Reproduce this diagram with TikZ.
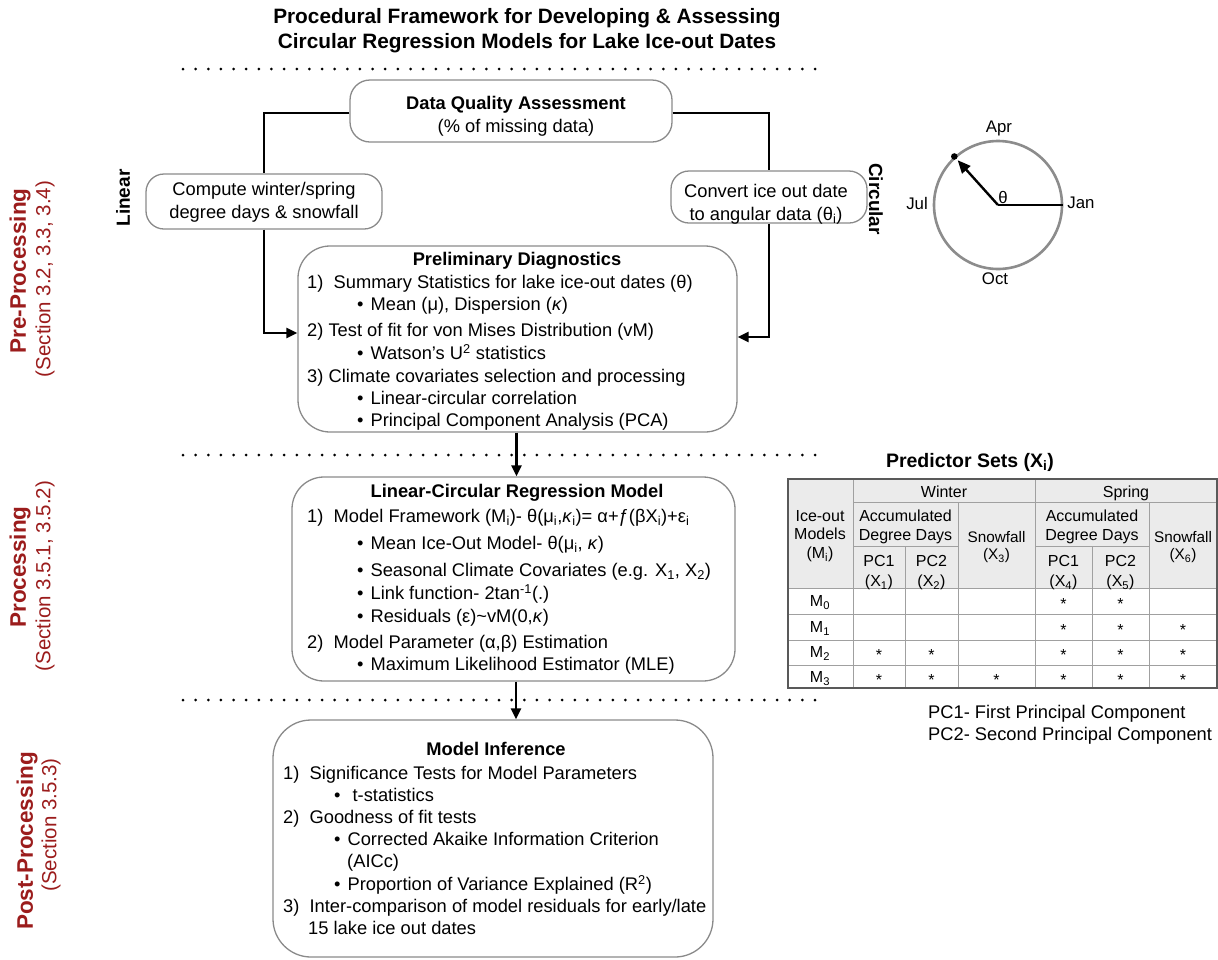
\documentclass[tikz,border=0pt]{standalone}
\usepackage{fontspec}
\setmainfont{Liberation Sans}
\usetikzlibrary{arrows.meta,calc}
\definecolor{sec}{HTML}{9B1C1C}
\definecolor{boxgray}{HTML}{8A8A8A}
\definecolor{hdr}{HTML}{EBEBEB}
\definecolor{tline}{HTML}{A0A0A0}
\definecolor{cgray}{HTML}{8C8C8C}
\newcommand{\kap}{\textit{κ}}
\begin{document}
\begin{tikzpicture}[x=1pt,y=-1pt,
  box/.style={draw=boxgray, line width=1.3pt, inner sep=0pt},
  txt/.style={inner sep=0pt, anchor=west, font=\fontsize{18.3}{22}\selectfont, text height=13.2pt, text depth=0pt},
  ttl/.style={inner sep=0pt, anchor=center, font=\bfseries\fontsize{18.3}{22}\selectfont, text height=13.2pt, text depth=0pt},
  ctxt/.style={inner sep=0pt, anchor=center, font=\fontsize{18.3}{22}\selectfont, text height=13.2pt, text depth=0pt},
  tt/.style={inner sep=0pt, anchor=center, font=\fontsize{16}{19}\selectfont, text height=11.5pt, text depth=0pt},
  ts/.style={tt, font=\fontsize{15.3}{18}\selectfont},
  star/.style={inner sep=0pt, anchor=center, font=\fontsize{16}{18}\selectfont, yshift=-3pt},
  lbl/.style={inner sep=0pt, anchor=center, font=\fontsize{16.8}{20}\selectfont},
  conn/.style={line width=2.4pt},
  arr/.style={line width=2.4pt, -{Triangle[length=11pt,width=10pt]}},
  dots/.style={line width=3pt, line cap=round, dash pattern=on 0pt off 12.64pt},
  secb/.style={inner sep=0pt, rotate=90, text=sec, font=\bfseries\fontsize{22.5}{26}\selectfont},
  secn/.style={inner sep=0pt, rotate=90, text=sec, font=\fontsize{20.5}{24}\selectfont},
]
\useasboundingbox (0,0) rectangle (1218,959);

% ---------- title ----------
\node[inner sep=0pt, font=\bfseries\fontsize{20.8}{25}\selectfont, align=center] (title) at (527,31)
  {Procedural Framework for Developing \& Assessing\\Circular Regression Models for Lake Ice-out Dates};

% ---------- dotted separators ----------
\draw[dots] (183,69) -- (815,69);
\draw[dots] (183,455) -- (815,455);
\draw[dots] (183,700) -- (815,700);

% ---------- section labels ----------
\node[secb] (preA) at (20,271) {Pre-Processing};
\node[secn] (preB) at (45,279) {(Section 3.2, 3.3, 3.4)};
\node[secb] (proA) at (20,567) {Processing};
\node[secn] (proB) at (45,576) {(Section 3.5.1, 3.5.2)};
\node[secb] (posA) at (27,841) {Post-Processing};
\node[secn] (posB) at (51,825) {(Section 3.5.3)};

% ---------- boxes ----------
\node[box, rounded corners=20pt, minimum width=322pt, minimum height=62pt] (dqa) at (511,111) {};
\node[ttl] (dqa1) at (516,103) {Data Quality Assessment};
\node[ctxt] (dqa2) at (516,126) {(\% of missing data)};

\node[box, rounded corners=18pt, minimum width=236pt, minimum height=55pt] (comp) at (264,201.5) {};
\node[ctxt] (comp1) at (264,189) {Compute winter/spring};
\node[ctxt] (comp2) at (264,212) {degree days \& snowfall};

\node[box, rounded corners=18pt, minimum width=196pt, minimum height=52pt] (conv) at (769,197) {};
\node[ctxt] (conv1) at (766,191) {Convert ice out date};
\node[ctxt] (conv2) at (766,214) {to angular data (θ\textsubscript{i})};

\node[inner sep=0pt, rotate=90, font=\bfseries\fontsize{19}{22}\selectfont] (lin) at (123,198) {Linear};
\node[inner sep=0pt, rotate=-90, font=\bfseries\fontsize{19}{22}\selectfont] (circ) at (876,199) {Circular};

\node[box, rounded corners=32pt, minimum width=439pt, minimum height=186pt] (prelim) at (517.5,339) {};
\node[ttl] (p0) at (517,259) {Preliminary Diagnostics};
\node[txt] (p1) at (307,282) {1)\ \ Summary Statistics for lake ice-out dates (θ)};
\node[txt] (p2) at (357,304) {•\hspace{7pt}Mean (μ), Dispersion (\kap)};
\node[txt] (p3) at (307,330) {2) Test of fit for von Mises Distribution (vM)};
\node[txt] (p4) at (357,353) {•\hspace{7pt}Watson’s U\textsuperscript{2} statistics};
\node[txt] (p5) at (307,376) {3) Climate covariates selection and processing};
\node[txt] (p6) at (357,398) {•\hspace{7pt}Linear-circular correlation};
\node[txt] (p7) at (357,420) {•\hspace{7pt}Principal Component Analysis (PCA)};

\node[box, rounded corners=32pt, minimum width=443pt, minimum height=204pt] (reg) at (513.5,579) {};
\node[ttl] (r0) at (517,491) {Linear-Circular Regression Model};
\node[txt] (r1) at (307,516) {1)\ \ Model Framework (M\textsubscript{i})- θ(μ\textsubscript{i},\kap\textsubscript{i})= α+ƒ(βX\textsubscript{i})+ε\textsubscript{i}};
\node[txt] (r2) at (357,543) {•\hspace{7pt}Mean Ice-Out Model- θ(μ\textsubscript{i}, \kap)};
\node[txt] (r3) at (357,570) {•\hspace{7pt}Seasonal Climate Covariates (e.g. X\textsubscript{1}, X\textsubscript{2})};
\node[txt] (r4) at (357,593) {•\hspace{7pt}Link function- 2tan\textsuperscript{-1}(.)};
\node[txt] (r5) at (357,616) {•\hspace{7pt}Residuals (ε)\textasciitilde vM(0,\kap)};
\node[txt] (r6) at (307,642) {2)\ \ Model Parameter (α,β) Estimation};
\node[txt] (r7) at (357,664) {•\hspace{7pt}Maximum Likelihood Estimator (MLE)};

\node[box, rounded corners=38pt, minimum width=440pt, minimum height=237pt] (inf) at (493,838.5) {};
\node[ttl] (i0) at (496,749) {Model Inference};
\node[txt] (i1) at (283,773) {1)\ \ Significance Tests for Model Parameters};
\node[txt] (i2) at (334,795) {•\hspace{12pt}t-statistics};
\node[txt] (i3) at (283,817) {2)\ \ Goodness of fit tests};
\node[txt] (i4) at (334,839) {•\hspace{7pt}Corrected Akaike Information Criterion};
\node[txt] (i5) at (347,861) {(AICc)};
\node[txt] (i6) at (334,884) {•\hspace{7pt}Proportion of Variance Explained (R\textsuperscript{2})};
\node[txt] (i7) at (283,906) {3)\ \ Inter-comparison of model residuals for early/late};
\node[txt] (i8) at (308,928) {15 lake ice out dates};

% ---------- connectors ----------
\draw[conn] ([yshift=-2pt]dqa.west) -| (comp.north);
\draw[arr] (comp.south) |- ([yshift=6pt]prelim.west);
\draw[conn] ([yshift=-2pt]dqa.east) -| (conv.north);
\draw[arr] (conv.south) |- ([yshift=2pt]prelim.east);
\draw[arr] ([xshift=-1pt]prelim.south) -- ([xshift=-1pt]prelim.south |- reg.north);
\draw[arr] ([xshift=2.5pt]reg.south) -- ([xshift=2.5pt]reg.south |- inf.north);

% ---------- circle ----------
\node[circle, draw=cgray, line width=2.6pt, minimum size=128pt, inner sep=0pt] (clock) at (998,205) {};
\draw[line width=2.4pt] (clock.center) -- (clock.east);
\draw[line width=2.4pt, -{Triangle[length=13pt,width=11pt]}, shorten >=5pt] (clock.center) -- (clock.132);
\fill (clock.132) circle (3.3pt);
\node[lbl] (th) at (1003,197) {θ};
\node[lbl] (apr) at (999,128) {Apr};
\node[lbl] (jul) at (917,203) {Jul};
\node[lbl] (jan) at (1081,203) {Jan};
\node[lbl] (oct) at (995,279) {Oct};

% ---------- table ----------
\node[inner sep=0pt, font=\bfseries\fontsize{19.5}{22}\selectfont] (pst) at (970,462) {Predictor Sets (X\textsubscript{i})};
\fill[hdr] (788,479) rectangle (1217,588);
\draw[tline, line width=0.9pt]
  (853,502) -- (1217,502)
  (853,546) -- (958,546) (1035,546) -- (1149,546)
  (788,588) -- (1217,588) (788,614) -- (1217,614) (788,640) -- (1217,640) (788,665) -- (1217,665)
  (853,479) -- (853,688) (1035,479) -- (1035,688)
  (958,502) -- (958,688) (1149,502) -- (1149,688)
  (905,546) -- (905,688) (1092,546) -- (1092,688);
\draw[draw=black!65, line width=1.2pt] (788,479) rectangle (1217,688);

\node[tt] (hw) at (944,492) {Winter};
\node[tt] (hs) at (1126,492) {Spring};
\node[tt] (a1) at (905.5,516) {Accumulated};
\node[tt] (a2) at (905.5,535) {Degree Days};
\node[tt] (a3) at (1092,516) {Accumulated};
\node[tt] (a4) at (1092,535) {Degree Days};
\node[ts] (s1) at (996.5,537) {Snowfall};
\node[ts] (s2) at (996.5,554) {(X\textsubscript{3})};
\node[ts] (s3) at (1183,537) {Snowfall};
\node[ts] (s4) at (1183,554) {(X\textsubscript{6})};
\node[tt] (m1) at (820,516) {Ice-out};
\node[tt] (m2) at (820,534) {Models};
\node[tt] (m3) at (820,553) {(M\textsubscript{i})};
\node[tt] (pa) at (879,561) {PC1};
\node[tt] (pb) at (879,581) {(X\textsubscript{1})};
\node[tt] (pc) at (931.5,561) {PC2};
\node[tt] (pd) at (931.5,581) {(X\textsubscript{2})};
\node[tt] (pe) at (1063.5,561) {PC1};
\node[tt] (pf) at (1063.5,581) {(X\textsubscript{4})};
\node[tt] (pg) at (1120.5,561) {PC2};
\node[tt] (ph) at (1120.5,581) {(X\textsubscript{5})};
\node[tt] (M0) at (820,601) {M\textsubscript{0}};
\node[tt] (M1) at (820,627) {M\textsubscript{1}};
\node[tt] (M2) at (820,652) {M\textsubscript{2}};
\node[tt] (M3) at (820,677) {M\textsubscript{3}};
% stars
\foreach \x/\y [count=\k] in {1063.5/601,1120.5/601,
  1063.5/627,1120.5/627,1183/627,
  879/652,931.5/652,1063.5/652,1120.5/652,1183/652,
  879/677,931.5/677,996.5/677,1063.5/677,1120.5/677,1183/677}
  \node[star] (st\k) at (\x,\y) {*};

\node[txt] (f1) at (928,712) {PC1- First Principal Component};
\node[txt] (f2) at (928,734) {PC2- Second Principal Component};
\end{tikzpicture}
\end{document}
